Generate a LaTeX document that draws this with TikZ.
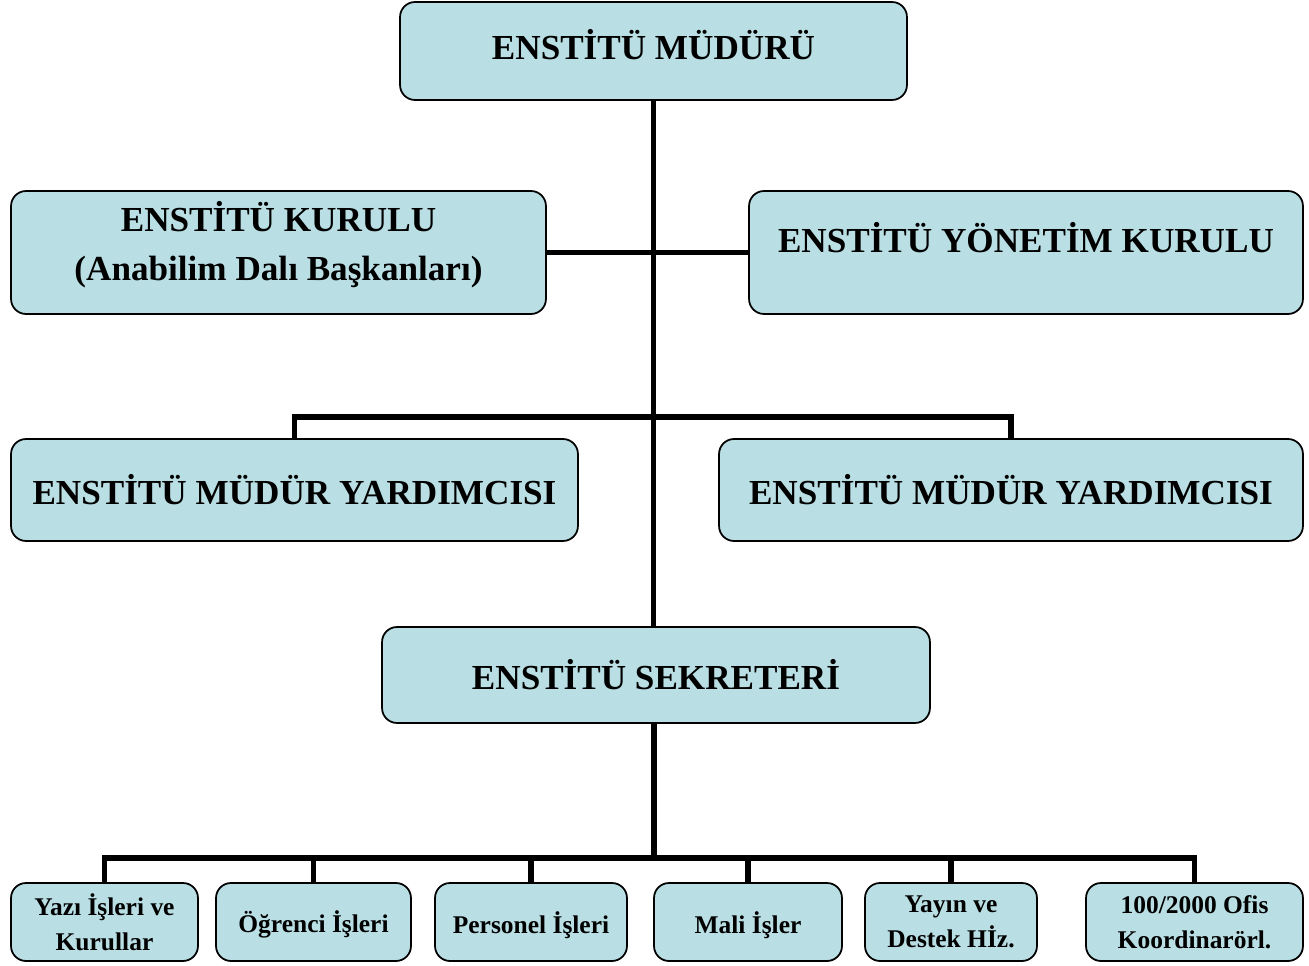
\documentclass[tikz,border=0pt]{standalone}
\usepackage{fontspec}
\setmainfont{Liberation Serif}
\usepackage{tikz}
\usetikzlibrary{calc, positioning}
\definecolor{boxfill}{RGB}{185,223,228}
\tikzset{
x=0.02cm, y=-0.02cm, % pixel grid of the chart
unit/.style={draw=black, line width=1pt, fill=boxfill, rounded corners=0.3cm, align=center, inner sep=2pt, font=\fontsize{20}{28}\selectfont\bfseries},
office/.style={unit, minimum height=1.56cm, font=\fontsize{14.5}{19.8}\selectfont\bfseries},
low/.style={text height=0.55cm}, % one-line offices sit a bit lower
link/.style={line width=3.4pt},
}

\begin{document}
\begin{tikzpicture}
  \useasboundingbox (0,0) rectangle (1309,966);
  \coordinate (bus1) at (654,417);
  \coordinate (bus2) at (654,858);
  \node[unit, minimum width=10.14cm, minimum height=1.96cm, text depth=0.25cm] (mudur) at (653.5,51) {ENST\.{I}T\"U M\"UD\"UR\"U};
  \node[unit, minimum width=10.7cm, minimum height=2.46cm, text depth=0.46cm] (kurul) at (278.5,252.5) {ENST\.{I}T\"U KURULU\\(Anabilim Dalı Başkanları)};
  \node[unit, minimum width=11.08cm, minimum height=2.46cm, text depth=0.6cm] (yonetim) at (1026,252.5) {ENST\.{I}T\"U Y\"ONET\.{I}M KURULU};
  \node[unit, minimum width=11.34cm, minimum height=2.04cm] (yardA) at (294.5,490) {ENST\.{I}T\"U M\"UD\"UR YARDIMCISI};
  \node[unit, minimum width=11.68cm, minimum height=2.04cm] (yardB) at (1011,490) {ENST\.{I}T\"U M\"UD\"UR YARDIMCISI};
  \node[unit, minimum width=10.96cm, minimum height=1.92cm] (sekreter) at (656,675) {ENST\.{I}T\"U SEKRETER\.{I}};
  % offices
  \node[office, minimum width=3.74cm] (yazi) at (104.5,922) {Yazı \.{I}şleri ve\\Kurullar};
  \node[office, low, minimum width=3.9cm] (ogrenci) at (313.5,922) {\"Oğrenci \.{I}şleri};
  \node[office, low, minimum width=3.84cm] (personel) at (531,922) {Personel \.{I}şleri};
  \node[office, low, minimum width=3.76cm] (mali) at (748,922) {Mali \.{I}şler};
  \node[office, minimum width=3.44cm] (yayin) at (951,922) {Yayın ve\\Destek H\.{I}z.};
  \node[office, minimum width=4.34cm] (ofis) at (1194.5,922) {100/2000 Ofis\\Koordinar\"orl.};
  % links
  \draw[link] (mudur.south) -- (mudur.south |- sekreter.north);
  \draw[link] (kurul.east) -- (yonetim.west);
  \draw[link] (yardA.north) -- (yardA.north |- bus1) -- (yardB.north |- bus1) -- (yardB.north);
  \draw[link] (bus2 |- sekreter.south) -- (bus2);
  \draw[link, line cap=rect] (yazi.north |- bus2) -- (ofis.north |- bus2);
  \foreach \n in {yazi,ogrenci,personel,mali,yayin,ofis}
    \draw[link] (\n.north) -- (\n.north |- bus2);
\end{tikzpicture}
\end{document}
